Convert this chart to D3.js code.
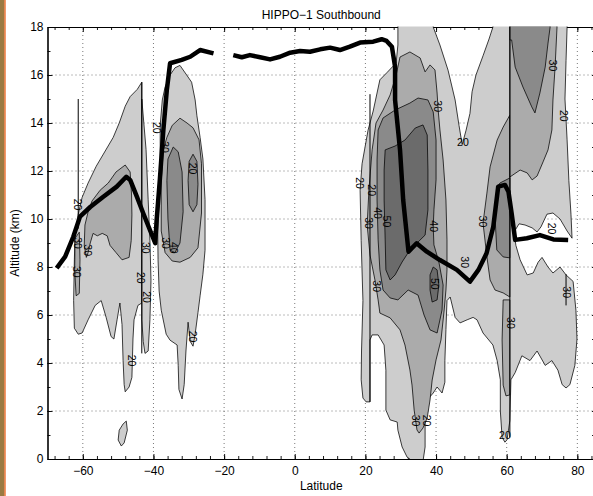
<!DOCTYPE html>
<html>
<head>
<meta charset="utf-8">
<script src="https://cdn.jsdelivr.net/npm/d3@7"></script>
<style>
  body { margin: 0; background: #fff; }
  svg { display: block; font-family: "Liberation Sans", Arial, Helvetica, sans-serif; }
</style>
</head>
<body>
<div class="canvas"></div>
<script>
// ---- data: contour outlines [lat, alt] ----
const left20 = [[-43.3,15.7],[-44.6,15.4],[-46.6,15.1],[-48.0,14.7],[-49.7,14.0],[-51.4,13.4],[-54.0,12.75],[-56.2,12.2],[-58.5,11.5],[-60.2,10.9],[-61.3,10.2],[-62.2,9.3],[-62.4,8.3],[-62.6,6.6],[-62.4,5.45],[-61.3,5.2],[-60.2,5.25],[-58.5,5.8],[-56.5,6.4],[-54.8,6.6],[-53.4,5.9],[-52.0,5.1],[-51.2,5.0],[-50.3,5.8],[-49.5,6.5],[-48.9,5.6],[-48.6,4.1],[-48.3,3.1],[-48.0,2.8],[-46.9,3.0],[-46.1,3.4],[-45.8,5.0],[-45.5,5.8],[-44.4,6.4],[-43.3,6.5]];
const strip20 = [[-43.3,15.0],[-42.1,12.9],[-41.5,10.8],[-41.0,9.1],[-40.7,7.45],[-41.0,5.8],[-41.5,4.5],[-42.4,4.4],[-42.9,4.9],[-43.3,5.8]];
const second20 = [[-32.5,16.4],[-30.6,16.0],[-29.2,15.7],[-28.2,14.96],[-27.7,14.3],[-26.8,13.4],[-26.0,12.5],[-25.4,10.8],[-25.4,8.7],[-26.0,7.7],[-26.8,6.8],[-27.4,6.1],[-28.2,5.2],[-28.8,4.7],[-29.6,4.9],[-30.2,5.7],[-30.8,4.5],[-31.3,3.1],[-31.9,2.5],[-32.8,2.9],[-33.0,3.9],[-33.3,4.75],[-35.3,4.95],[-36.4,5.2],[-37.8,6.2],[-38.4,7.0],[-38.7,8.3],[-38.8,9.5],[-38.4,10.8],[-38.1,12.5],[-38.1,13.9],[-37.5,14.96],[-36.7,15.5],[-35.3,16.0],[-33.9,16.3]];
const small20 = [[-47.7,1.58],[-47.4,1.2],[-48.3,0.67],[-49.1,0.54],[-50.0,0.79],[-49.7,1.2],[-48.6,1.46]];
const right20 = [[29.2,18.5],[39.2,18.5],[39.2,18.0],[41.1,17.25],[43.4,16.2],[45.4,14.96],[46.5,13.9],[47.4,13.1],[48.5,13.7],[49.6,14.4],[50.2,15.3],[51.3,16.0],[53.3,16.8],[55.0,17.5],[56.1,18.0],[56.1,18.5],[77.1,18.5],[77.1,18.0],[76.8,16.6],[76.5,15.0],[77.1,13.3],[77.6,11.6],[78.2,10.2],[78.5,9.2],[77.1,9.5],[75.1,10.0],[73.1,10.25],[71.4,10.2],[69.7,9.67],[68.6,9.46],[67.2,9.63],[65.2,9.75],[63.5,9.8],[62.1,9.46],[62.6,8.9],[63.8,8.3],[65.8,7.67],[67.5,7.75],[68.9,8.2],[70.0,8.4],[71.7,8.0],[73.1,7.75],[75.1,8.0],[76.8,7.67],[78.8,7.4],[79.6,6.2],[79.9,5.0],[79.3,3.9],[77.9,3.1],[76.8,2.96],[75.7,3.1],[74.5,3.7],[72.8,4.1],[70.9,3.9],[68.6,4.5],[66.6,4.1],[64.3,4.3],[62.4,3.6],[61.2,3.3],[60.9,1.6],[60.1,0.8],[59.5,0.7],[58.7,0.9],[58.2,2.0],[58.2,3.3],[57.3,4.1],[56.1,4.75],[54.7,5.0],[53.3,5.25],[51.6,5.8],[50.5,5.9],[48.8,5.8],[46.8,5.67],[45.4,5.9],[44.0,6.75],[43.1,6.6],[42.8,5.4],[42.5,4.1],[42.5,3.2],[41.7,2.75],[40.3,3.0],[39.2,2.75],[37.5,2.46],[36.9,1.6],[36.9,0.5],[36.3,-0.1],[33.5,-0.1],[31.8,0.08],[30.4,0.5],[29.2,1.2],[29.0,1.54],[27.0,1.63],[25.8,2.04],[25.8,3.7],[25.3,4.75],[23.6,5.17],[21.9,5.17],[21.3,4.96],[21.3,2.38],[20.2,2.38],[19.3,2.54],[18.8,3.3],[18.9,4.5],[19.3,6.6],[18.8,9.1],[18.5,11.2],[19.05,12.3],[20.75,13.7],[22.2,14.5],[24.1,15.8],[26.1,16.1],[28.7,16.5],[29.2,17.25]];

const left30 = [[-48.0,12.25],[-46.6,11.96],[-46.2,11.0],[-46.1,10.17],[-46.3,9.1],[-46.9,8.4],[-48.9,8.3],[-50.6,8.6],[-52.3,8.9],[-53.1,9.3],[-54.5,9.4],[-55.9,9.3],[-57.1,9.4],[-57.9,9.0],[-58.5,8.6],[-59.0,8.4],[-59.6,8.9],[-59.4,9.75],[-58.5,10.3],[-57.4,10.75],[-55.1,11.2],[-52.8,11.5],[-50.6,11.96]];
const edge30 = [[-62.2,9.2],[-61.0,9.45],[-60.8,8.3],[-61.0,6.9],[-61.9,6.8],[-62.3,7.9]];
const second30 = [[-32.5,14.2],[-30.5,14.0],[-28.8,13.8],[-27.1,13.3],[-26.4,12.3],[-26.4,10.25],[-27.4,8.8],[-29.6,8.4],[-32.5,8.2],[-34.7,8.25],[-36.7,8.6],[-37.8,9.5],[-37.8,11.6],[-37.2,12.9],[-36.2,13.4],[-34.7,13.9]];
const central30 = [[29.8,16.75],[32.6,16.96],[35.5,16.71],[36.9,16.13],[38.3,16.42],[39.7,16.21],[40.3,15.25],[40.6,14.54],[41.1,13.71],[42.0,12.46],[42.8,10.79],[43.1,9.13],[43.1,7.88],[42.8,7.04],[42.3,6.21],[41.4,4.96],[40.0,4.13],[38.9,3.29],[38.3,2.46],[37.5,1.71],[36.3,1.29],[35.2,1.08],[34.6,1.21],[33.8,2.04],[33.2,3.08],[32.6,3.71],[31.2,4.75],[29.8,5.38],[27.0,5.88],[24.1,6.08],[23.6,6.63],[22.7,7.46],[21.3,8.5],[20.5,9.75],[21.0,11.21],[21.9,12.88],[23.0,14.0],[25.0,14.54],[27.0,15.17],[28.7,16.0]];
const column30 = [[59.0,13.83],[60.9,14.33],[60.9,6.75],[59.0,6.92],[56.7,7.04],[55.3,7.46],[54.4,8.42],[53.3,9.83],[54.4,11.08],[55.3,12.17],[57.3,13.29]];
const column30low = [[59.0,6.63],[60.9,6.63],[60.9,2.67],[59.8,2.63],[59.0,3.08],[58.7,4.96]];
const top30 = [[60.9,18.5],[74.25,18.5],[74.25,18.0],[73.7,16.33],[73.1,14.96],[72.8,13.71],[71.7,12.88],[70.3,12.38],[68.6,11.79],[67.2,11.63],[65.8,11.92],[63.8,12.04],[60.9,11.75]];

const second40a = [[-34.4,13.0],[-33.0,12.8],[-31.9,11.96],[-31.6,10.3],[-32.5,9.0],[-33.9,8.6],[-35.3,8.7],[-35.9,10.0],[-36.2,11.6],[-35.9,12.5]];
const second40b = [[-28.8,12.7],[-27.7,12.4],[-27.4,11.45],[-27.7,10.6],[-28.8,10.3],[-29.9,10.6],[-30.2,11.6],[-29.9,12.4]];
const central40 = [[23.6,13.71],[25.0,14.21],[28.4,14.54],[32.6,14.83],[34.9,15.04],[37.7,14.96],[39.2,14.46],[40.0,13.29],[40.0,11.63],[39.4,10.38],[39.2,9.67],[39.4,8.92],[40.8,8.21],[42.0,7.25],[41.7,6.21],[40.3,5.25],[38.3,5.38],[36.6,6.0],[34.9,6.83],[32.1,7.04],[29.2,6.63],[27.0,6.71],[25.0,7.04],[24.1,7.88],[23.6,9.13],[23.3,10.79],[23.3,12.46]];
const column40 = [[58.1,11.5],[60.9,11.71],[60.9,8.38],[59.0,8.42],[57.2,8.71],[56.7,10.08],[57.2,11.33]];
const top40 = [[60.9,18.5],[72.3,18.5],[72.3,18.0],[71.7,17.33],[70.9,16.33],[69.4,15.25],[68.0,14.42],[67.1,14.67],[64.6,15.5],[62.4,16.33],[61.4,17.46],[60.9,17.46]];

const central50 = [[25.6,12.88],[28.4,13.04],[31.2,13.29],[34.1,13.79],[36.3,13.92],[37.5,13.5],[37.7,12.04],[37.7,10.38],[36.9,9.33],[34.9,9.04],[32.6,8.71],[30.4,8.21],[28.4,7.67],[27.0,7.46],[25.8,7.88],[25.6,9.13],[25.3,10.79],[25.3,12.04]];
const lower50 = [[39.2,8.0],[40.3,7.88],[40.8,7.25],[40.3,6.63],[38.9,6.54],[38.3,7.04],[38.3,7.67]];

const contourLevels = [20, 30, 40, 50];
const contourFills = ["#cdcdcd", "#ababab", "#8a8a8a", "#6b6b6b"];
const contourShapes = [
  [left20, strip20, second20, small20, right20],
  [left30, edge30, second30, central30, column30, column30low, top30],
  [second40a, second40b, central40, column40, top40],
  [central50, lower50]
];

// zero-width contour pieces (drawn as plain lines)
const contourLines = [
  [[-61.3,15.0],[-61.3,9.6]],
  [[-43.3,15.7],[-43.3,4.4]],
  [[21.3,15.2],[21.3,2.38]],
  [[60.9,18.0],[60.9,0.9]],
  [[76.8,7.7],[76.8,6.4]]
];

// contour labels: lat, alt, text, rotation
const contourLabels = [
  [-61.5,10.6,"20",90],[-61.5,9.0,"30",90],[-58.5,8.7,"30",90],[-61.8,7.8,"30",90],
  [-39.0,13.8,"20",90],[-36.7,13.0,"30",90],[-28.8,12.1,"20",90],[-42.1,8.8,"30",90],
  [-36.4,9.0,"30",90],[-34.4,8.8,"40",90],[-43.5,7.55,"20",90],[-41.8,6.75,"20",90],
  [-46.1,4.1,"20",90],[-29.0,5.1,"20",90],
  [40.6,14.7,"30",90],[47.6,13.2,"20",0],[73.1,16.4,"30",90],[76.2,14.3,"20",90],
  [18.5,11.5,"20",90],[21.9,11.2,"20",90],[23.6,10.25,"40",90],[20.8,9.83,"30",90],
  [26.1,9.9,"50",90],[39.2,9.7,"40",90],[23.3,7.2,"30",90],[39.7,7.3,"50",90],
  [48.2,8.2,"30",90],[53.3,9.9,"30",90],[72.8,9.6,"20",90],[77.1,6.95,"30",90],
  [61.2,5.67,"30",90],[34.3,1.6,"30",90],[37.4,1.6,"20",90],[59.5,1.0,"20",0]
];

// flight track (two pieces, gap near 20S)
const trackWest = [[-67.4,7.95],[-65.0,8.43],[-62.7,9.26],[-60.8,10.1],[-57.9,10.5],[-54.2,10.93],[-50.4,11.35],[-47.7,11.76],[-46.6,11.63],[-44.7,10.93],[-42.9,10.24],[-41.0,9.54],[-39.5,8.99],[-39.1,9.96],[-38.2,11.63],[-37.2,13.7],[-36.2,15.4],[-35.7,16.0],[-35.3,16.49],[-32.0,16.63],[-29.6,16.76],[-26.8,17.04],[-23.0,16.9]];
const trackEast = [[-17.4,16.83],[-15.0,16.74],[-12.7,16.83],[-9.8,16.74],[-7.0,16.65],[-4.2,16.76],[-1.3,16.93],[1.5,17.0],[4.3,16.97],[7.2,17.07],[10.0,17.14],[12.8,17.04],[15.6,17.18],[18.5,17.35],[22.2,17.39],[24.6,17.49],[26.0,17.42],[27.5,17.18],[28.4,16.35],[28.4,14.96],[29.8,12.88],[30.7,10.79],[32.2,8.64],[34.5,8.99],[37.4,8.64],[41.1,8.29],[45.9,7.88],[49.6,7.39],[52.0,7.88],[54.3,8.57],[56.2,9.68],[57.6,11.35],[59.5,11.42],[60.5,11.14],[61.4,10.24],[62.4,9.13],[65.7,9.2],[69.4,9.33],[73.2,9.15],[77.4,9.13]];

const latMajor = [-60, -40, -20, 0, 20, 40, 60, 80];
const latMinor = d3.range(-68, 86, 4);
const altMajor = [0, 2, 4, 6, 8, 10, 12, 14, 16, 18];
const altMinor = d3.range(0, 19, 1);

// ---- layout ----
const W = 593, H = 496;
const plot = { left: 47.5, right: 595, top: 27, bottom: 459 };

const svg = d3.select('.canvas').append('svg')
  .attr('width', W).attr('height', H);

const x = d3.scaleLinear().domain([-70, 85]).range([plot.left, plot.right]);
const y = d3.scaleLinear().domain([0, 18]).range([plot.bottom, plot.top]);

// cropped page edge on the left
svg.append('rect').attr('x', 0).attr('y', 0).attr('width', 4.5).attr('height', H).attr('fill', '#9a7a42');
svg.append('rect').attr('x', 4.3).attr('y', 0).attr('width', 1.4).attr('height', H).attr('fill', '#ec6f2e');

// grid
const grid = svg.append('g').attr('stroke', '#555').attr('stroke-width', 0.8).attr('stroke-dasharray', '1,3');
grid.selectAll('.gx').data(latMajor).enter().append('line')
  .attr('x1', d => x(d)).attr('x2', d => x(d)).attr('y1', plot.top).attr('y2', plot.bottom);
grid.selectAll('.gy').data(altMajor.slice(1, -1)).enter().append('line')
  .attr('y1', d => y(d)).attr('y2', d => y(d)).attr('x1', plot.left).attr('x2', plot.right);

// axes
const fmt = d3.format('d');
svg.append('g').attr('transform', `translate(0,${plot.bottom})`)
  .call(d3.axisBottom(x).tickValues(latMinor).tickSize(-3).tickFormat('').tickSizeOuter(0));
svg.append('g').attr('transform', `translate(0,${plot.bottom})`)
  .call(d3.axisBottom(x).tickValues(latMajor).tickSize(-5).tickPadding(7).tickFormat(fmt).tickSizeOuter(0));
svg.append('g').attr('transform', `translate(0,${plot.top})`)
  .call(d3.axisTop(x).tickValues(latMinor).tickSize(-3).tickFormat('').tickSizeOuter(0));
svg.append('g').attr('transform', `translate(0,${plot.top})`)
  .call(d3.axisTop(x).tickValues(latMajor).tickSize(-5).tickFormat('').tickSizeOuter(0));
svg.append('g').attr('transform', `translate(${plot.left},0)`)
  .call(d3.axisLeft(y).tickValues(altMinor).tickSize(-3).tickFormat('').tickSizeOuter(0));
svg.append('g').attr('transform', `translate(${plot.left},0)`)
  .call(d3.axisLeft(y).tickValues(altMajor).tickSize(-5).tickPadding(4).tickFormat(fmt).tickSizeOuter(0));
svg.append('g').attr('transform', `translate(${plot.right},0)`)
  .call(d3.axisRight(y).tickValues(altMinor).tickSize(-3).tickFormat('').tickSizeOuter(0));

svg.selectAll('.tick text').attr('font-size', 12).attr('fill', '#000')
  .attr('font-family', '"Liberation Sans", Arial, sans-serif');
svg.selectAll('.domain').attr('stroke', '#000').attr('stroke-width', 1.1);
svg.selectAll('.tick line').attr('stroke', '#000').attr('stroke-width', 0.9);

// contours
svg.append('clipPath').attr('id', 'plotclip').append('rect')
  .attr('x', plot.left).attr('y', plot.top - 0.6)
  .attr('width', plot.right - plot.left).attr('height', plot.bottom - plot.top + 0.6);

const cont = svg.append('g').attr('clip-path', 'url(#plotclip)');
const area = d3.line().x(d => x(d[0])).y(d => y(d[1])).curve(d3.curveLinearClosed);
const open = d3.line().x(d => x(d[0])).y(d => y(d[1]));

contourLevels.forEach((lev, i) => {
  cont.append('g').attr('class', 'level-' + lev)
    .selectAll('path').data(contourShapes[i]).enter().append('path')
    .attr('d', area)
    .attr('fill', contourFills[i])
    .attr('stroke', '#000')
    .attr('stroke-width', 0.75)
    .attr('stroke-linejoin', 'round');
});

cont.selectAll('.cline').data(contourLines).enter().append('path')
  .attr('d', open).attr('fill', 'none').attr('stroke', '#000').attr('stroke-width', 1);

cont.selectAll('.clabel').data(contourLabels).enter().append('text')
  .attr('transform', d => `translate(${x(d[0])},${y(d[1])}) rotate(${d[3]})`)
  .attr('text-anchor', 'middle').attr('dy', '0.35em')
  .attr('font-size', 10.5).attr('fill', '#000')
  .text(d => d[2]);

// flight track
svg.append('g').attr('clip-path', 'url(#plotclip)')
  .selectAll('.track').data([trackWest, trackEast]).enter().append('path')
  .attr('d', open).attr('fill', 'none').attr('stroke', '#000')
  .attr('stroke-width', 4.5).attr('stroke-linejoin', 'round').attr('stroke-linecap', 'butt');

// titles
svg.append('text').attr('x', (plot.left + plot.right) / 2).attr('y', 18.5)
  .attr('text-anchor', 'middle').attr('font-size', 12).text('HIPPO\u22121 Southbound');
svg.append('text').attr('x', (plot.left + plot.right) / 2).attr('y', 489.5)
  .attr('text-anchor', 'middle').attr('font-size', 12).text('Latitude');
svg.append('text').attr('transform', `translate(14.5,${(plot.top + plot.bottom) / 2}) rotate(-90)`)
  .attr('text-anchor', 'middle').attr('dy', '0.35em').attr('font-size', 12).text('Altitude (km)');
</script>
</body>
</html>
